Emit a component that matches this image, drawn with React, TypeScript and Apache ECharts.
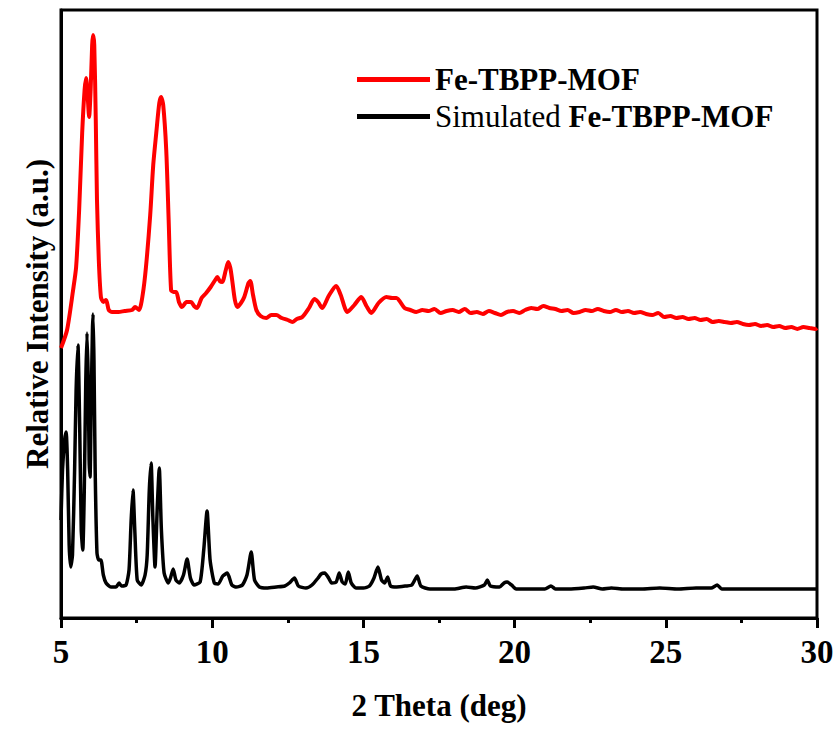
import React, { useEffect, useRef } from "react";
import * as echarts from "echarts";

// 2θ (deg) and relative intensity (a.u.) for the measured pattern
const expTheta = [5.0, 5.2, 5.4, 5.5, 5.6, 5.7, 5.78, 5.83, 5.88, 5.93, 5.98, 6.03, 6.06, 6.1, 6.15, 6.19, 6.25, 6.32, 6.4, 6.49, 6.58, 6.69, 6.9, 7.1, 7.35, 7.45, 7.58, 7.7, 7.81, 7.95, 8.05, 8.15, 8.25, 8.31, 8.38, 8.48, 8.56, 8.64, 8.72, 8.81, 8.9, 9.0, 9.15, 9.3, 9.4, 9.5, 9.65, 9.8, 9.95, 10.1, 10.17, 10.25, 10.33, 10.45, 10.53, 10.6, 10.66, 10.75, 10.83, 10.95, 11.06, 11.2, 11.26, 11.35, 11.46, 11.6, 11.79, 11.95, 12.12, 12.3, 12.5, 12.65, 12.8, 12.98, 13.2, 13.38, 13.5, 13.64, 13.85, 14.1, 14.25, 14.47, 14.7, 14.93, 15.1, 15.26, 15.5, 15.76, 15.95, 16.09, 16.36, 16.55, 16.75, 16.95, 17.15, 17.35, 17.55, 17.75, 17.95, 18.15, 18.35, 18.55, 18.75, 18.95, 19.15, 19.35, 19.55, 19.75, 19.95, 20.15, 20.35, 20.55, 20.75, 20.95, 21.15, 21.35, 21.55, 21.75, 21.95, 22.15, 22.35, 22.55, 22.75, 22.95, 23.15, 23.35, 23.55, 23.75, 23.95, 24.15, 24.35, 24.55, 24.75, 24.95, 25.15, 25.35, 25.55, 25.75, 25.95, 26.15, 26.35, 26.55, 26.75, 26.95, 27.15, 27.35, 27.55, 27.75, 27.95, 28.15, 28.35, 28.55, 28.75, 28.95, 29.15, 29.35, 29.55, 29.75, 29.95, 30.0];
const expIntensity = [270, 288, 328, 351, 408, 485, 528, 540, 523, 501, 528, 573, 583, 573, 498, 418, 358, 321, 316, 318, 308, 306, 306, 307, 308, 311, 308, 323, 351, 403, 453, 485, 515, 521, 513, 468, 398, 328, 326, 326, 316, 311, 316, 316, 312, 310, 320, 325, 331, 338, 341, 337, 336, 348, 356, 350, 338, 318, 311, 315, 321, 335, 337, 323, 308, 302, 300, 303, 303, 300, 298, 296, 299, 301, 310, 319, 316, 310, 322, 332, 323, 306, 313, 321, 312, 305, 315, 321, 320, 320, 310, 308, 306, 308, 307, 309, 305, 307, 308, 306, 309, 305, 306, 304, 307, 305, 303, 306, 307, 305, 308, 310, 309, 312, 310, 309, 307, 308, 305, 306, 308, 307, 309, 307, 306, 308, 306, 307, 305, 306, 304, 303, 305, 301, 302, 300, 301, 299, 300, 298, 299, 296, 297, 296, 295, 296, 294, 293, 294, 292, 293, 291, 292, 290, 291, 289, 291, 290, 289, 290];

// 2θ (deg) and relative intensity (a.u.) for the simulated pattern
const simTheta = [5.0, 5.05, 5.12, 5.17, 5.22, 5.27, 5.32, 5.38, 5.45, 5.5, 5.56, 5.62, 5.67, 5.72, 5.77, 5.82, 5.86, 5.9, 5.93, 5.96, 6.0, 6.04, 6.06, 6.09, 6.13, 6.19, 6.25, 6.32, 6.4, 6.49, 6.65, 6.82, 6.92, 7.0, 7.15, 7.25, 7.32, 7.38, 7.44, 7.52, 7.65, 7.78, 7.85, 7.92, 7.98, 8.04, 8.11, 8.18, 8.25, 8.32, 8.41, 8.55, 8.62, 8.71, 8.8, 8.91, 9.05, 9.17, 9.28, 9.4, 9.6, 9.72, 9.83, 9.93, 10.07, 10.2, 10.35, 10.5, 10.65, 10.8, 11.0, 11.15, 11.29, 11.4, 11.56, 11.8, 12.12, 12.4, 12.55, 12.72, 12.85, 13.1, 13.3, 13.5, 13.6, 13.72, 13.85, 13.95, 14.1, 14.2, 14.3, 14.4, 14.5, 14.6, 14.75, 15.0, 15.2, 15.35, 15.48, 15.6, 15.7, 15.8, 15.9, 16.1, 16.4, 16.6, 16.78, 16.9, 17.2, 17.6, 18.0, 18.4, 18.7, 19.0, 19.1, 19.2, 19.5, 19.65, 19.75, 19.9, 20.05, 20.5, 21.0, 21.2, 21.35, 21.8, 22.3, 22.6, 22.9, 23.2, 23.6, 24.2, 24.8, 25.4, 26.0, 26.5, 26.7, 26.85, 27.5, 28.2, 29.0, 30.0];
const simIntensity = [98, 148, 178, 186, 148, 73, 51, 63, 148, 228, 273, 188, 88, 68, 128, 238, 285, 238, 158, 141, 218, 288, 304, 258, 148, 65, 58, 58, 43, 35, 31, 31, 35, 32, 33, 48, 98, 128, 88, 38, 33, 43, 63, 128, 155, 98, 51, 108, 150, 88, 45, 35, 40, 49, 38, 35, 43, 59, 40, 33, 36, 68, 107, 58, 35, 34, 42, 45, 33, 31, 33, 43, 66, 38, 31, 30, 31, 32, 35, 40, 32, 30, 33, 40, 44, 45, 40, 35, 36, 45, 36, 34, 46, 35, 30, 30, 32, 40, 51, 38, 35, 41, 32, 31, 32, 33, 42, 32, 29, 29, 29, 31, 30, 33, 38, 32, 31, 35, 36, 33, 29, 29, 29, 32, 29, 29, 30, 31, 29, 30, 29, 29, 30, 29, 30, 30, 33, 29, 29, 29, 29, 29];

// x-axis ticks
const xTicks = [5, 10, 15, 20, 25, 30];

const seriesNames = ["Fe-TBPP-MOF", "Simulated Fe-TBPP-MOF"];

const FONT = "Liberation Serif";

export default function App() {
  const ref = useRef<HTMLDivElement>(null);
  useEffect(() => {
    if (!ref.current) return;
    const chart = echarts.init(ref.current, undefined, { renderer: "svg" });
    const expData = expTheta.map((t, i) => [t, expIntensity[i]]);
    const simData = simTheta.map((t, i) => [t, simIntensity[i]]);
    chart.setOption({
      animation: false,
      backgroundColor: "#fff",
      textStyle: { fontFamily: FONT },
      grid: {
        left: 61,
        right: 20,
        top: 10,
        bottom: 113,
        show: true,
        borderColor: "#000",
        borderWidth: 3,
        backgroundColor: "transparent",
      },
      legend: {
        orient: "vertical",
        left: 357,
        top: 64,
        padding: 0,
        itemWidth: 73,
        itemHeight: 5,
        itemGap: 6,
        icon: "rect",
        data: seriesNames,
        formatter: (n: string) =>
          n.startsWith("Simulated") ? "{n|Simulated }{b|Fe-TBPP-MOF}" : "{b|Fe-TBPP-MOF}",
        textStyle: {
          fontFamily: FONT,
          fontSize: 31,
          color: "#000",
          rich: {
            n: { fontFamily: FONT, fontSize: 31, color: "#000", fontWeight: "normal" },
            b: { fontFamily: FONT, fontSize: 31, color: "#000", fontWeight: "bold" },
          },
        },
      },
      xAxis: {
        type: "value",
        min: xTicks[0],
        max: xTicks[xTicks.length - 1],
        interval: 5,
        name: "2 Theta (deg)",
        nameLocation: "middle",
        nameGap: 72,
        nameTextStyle: { fontFamily: FONT, fontSize: 31, fontWeight: "bold", color: "#000" },
        axisLine: { show: true, lineStyle: { color: "#000", width: 3 } },
        axisTick: { show: true, inside: false, length: 10, lineStyle: { color: "#000", width: 3 } },
        minorTick: { show: true, splitNumber: 2, length: 5, lineStyle: { color: "#000", width: 3 } },
        splitLine: { show: false },
        axisLabel: {
          fontFamily: FONT,
          fontSize: 33,
          fontWeight: "bold",
          color: "#000",
          margin: 17,
        },
      },
      yAxis: {
        type: "value",
        min: 0,
        max: 608,
        name: "Relative Intensity (a.u.)",
        nameLocation: "middle",
        nameGap: 8,
        nameTextStyle: { fontFamily: FONT, fontSize: 31, fontWeight: "bold", color: "#000" },
        axisLine: { show: true, lineStyle: { color: "#000", width: 3 } },
        axisTick: { show: false },
        axisLabel: { show: false },
        splitLine: { show: false },
      },
      series: [
        {
          name: seriesNames[0],
          type: "line",
          data: expData,
          showSymbol: false,
          symbol: "none",
          smooth: 0.25,
          lineStyle: { color: "#ff0000", width: 4 },
          itemStyle: { color: "#ff0000" },
        },
        {
          name: seriesNames[1],
          type: "line",
          data: simData,
          showSymbol: false,
          symbol: "none",
          smooth: 0.2,
          lineStyle: { color: "#000", width: 3.5 },
          itemStyle: { color: "#000" },
        },
      ],
    });
    return () => chart.dispose();
  }, []);
  return (
    <div
      ref={ref}
      style={{ position: "fixed", left: 0, top: 0, width: 837, height: 731 }}
    />
  );
}
